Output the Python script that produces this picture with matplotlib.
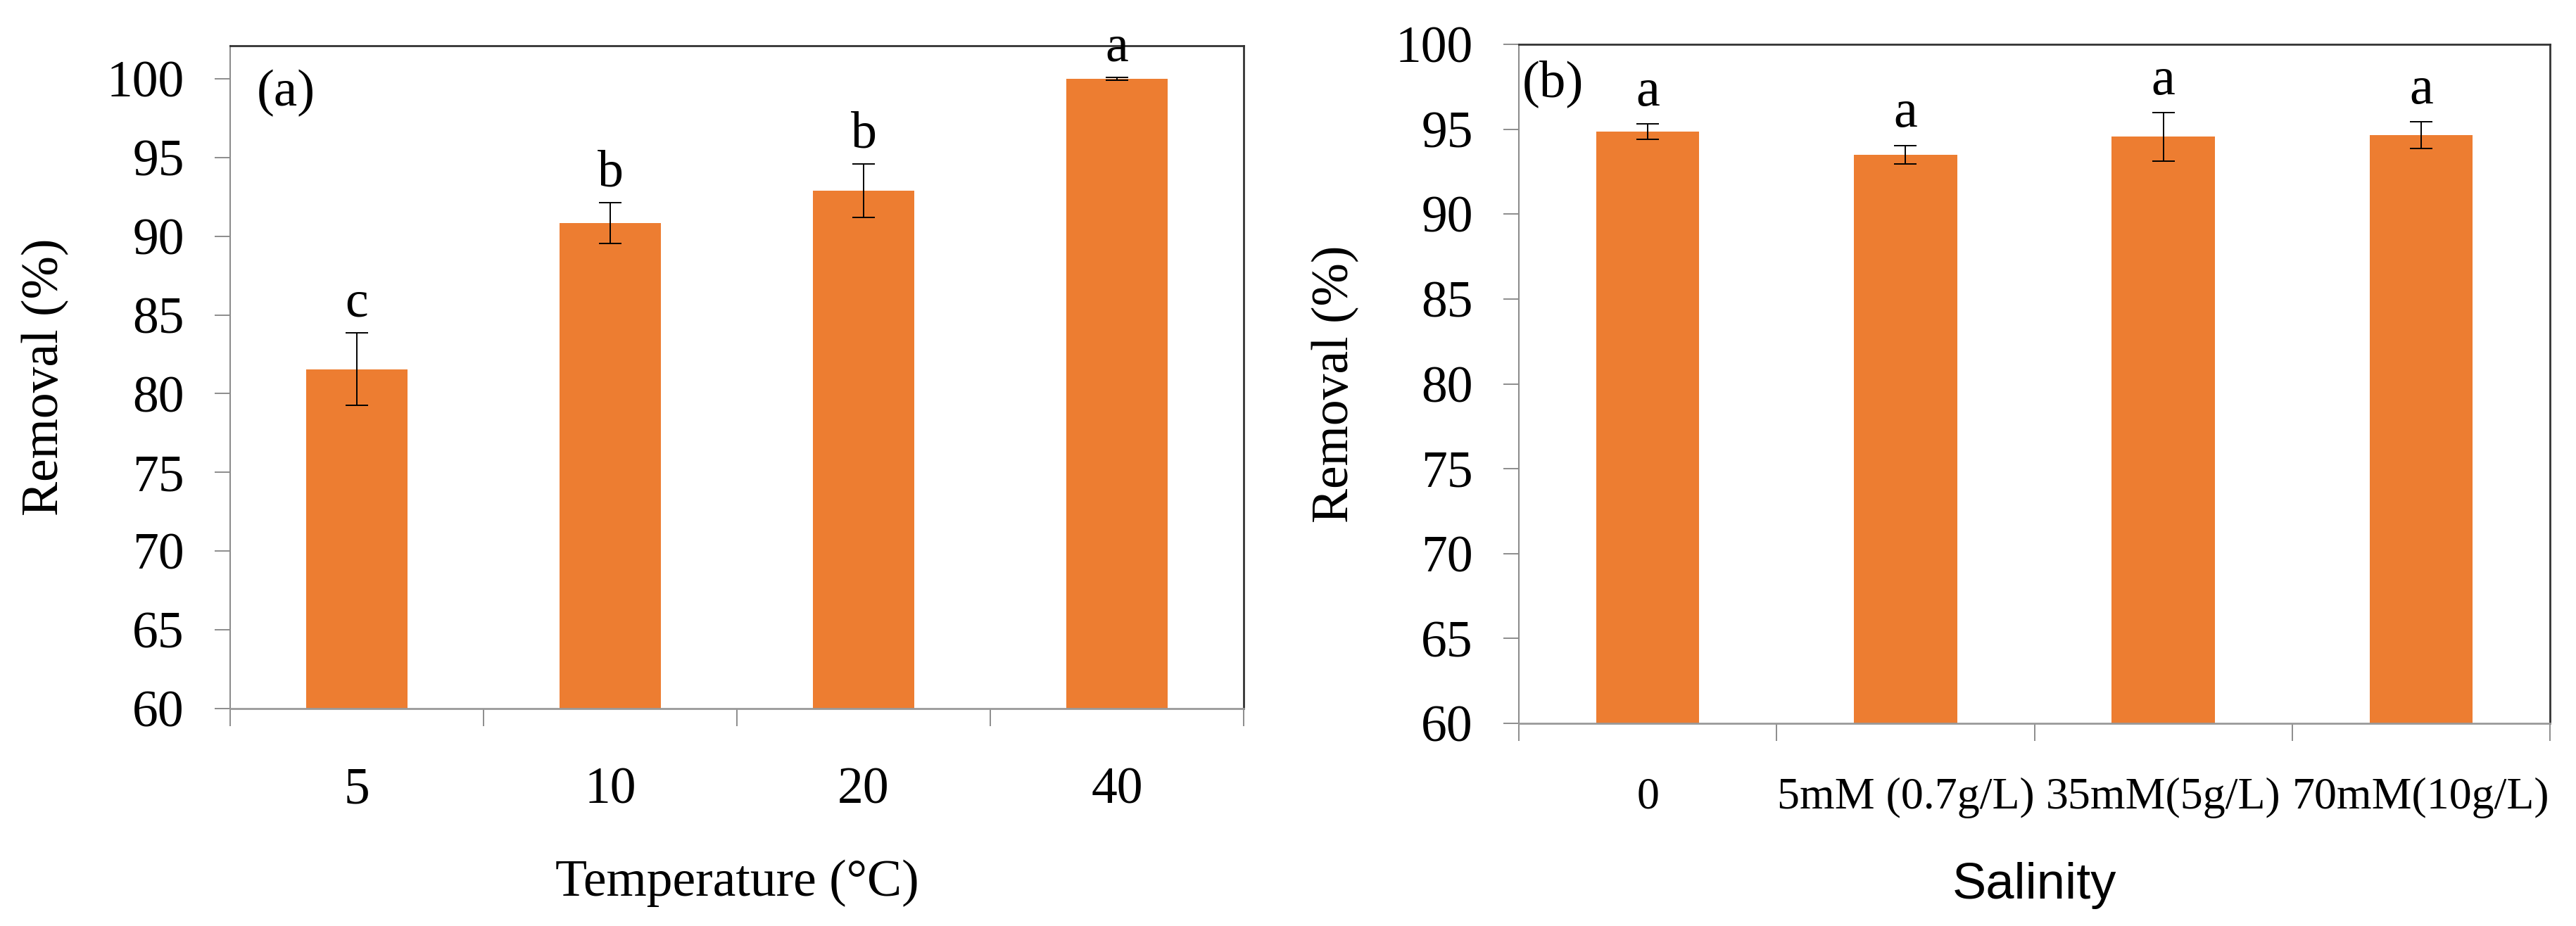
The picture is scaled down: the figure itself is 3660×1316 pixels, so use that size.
import numpy as np
import matplotlib
matplotlib.use('Agg')
import matplotlib.pyplot as plt

plt.rcParams['font.family'] = ['Liberation Serif', 'DejaVu Serif']
plt.rcParams['mathtext.fontset'] = 'stix'

# panel (a) - temperature
temp_labels = ['5', '10', '20', '40']
temp_removal = [81.55, 90.85, 92.9, 100.0]
temp_err = [2.3, 1.3, 1.7, 0.1]
temp_sig = ['c', 'b', 'b', 'a']

# panel (b) - salinity
sal_labels = ['0', '5mM (0.7g/L)', '35mM(5g/L)', '70mM(10g/L)']
sal_removal = [94.85, 93.5, 94.55, 94.65]
sal_err = [0.45, 0.55, 1.42, 0.77]
sal_sig = ['a', 'a', 'a', 'a']

BAR = '#ED7D31'
FS = 53

fig = plt.figure(figsize=(36.6, 13.16), dpi=100)
ax1 = fig.add_axes([0.08934, 0.23480, 0.39344, 0.71581])
ax2 = fig.add_axes([0.58962, 0.21884, 0.40027, 0.73329])


def draw_panel(ax, labels, vals, errs, sig, ylim, sig_off, xfs, xpad, sig_fs):
    x = np.arange(len(labels))
    ax.bar(x, vals, width=0.4, color=BAR, zorder=2)
    ax.errorbar(x, vals, yerr=errs, fmt='none', ecolor='black',
                elinewidth=1.4, capsize=11.5, capthick=1.4, zorder=3)
    for xi, v, e, s in zip(x, vals, errs, sig):
        ax.annotate(s, (xi, v + e), xytext=(0, sig_off), textcoords='offset points',
                    ha='center', va='baseline', fontsize=sig_fs)
    ax.set_xlim(-0.5, len(labels) - 0.5)
    ax.set_ylim(*ylim)
    ax.set_yticks(np.arange(60, 101, 5))
    ax.set_xticks(x)
    ax.set_xticklabels(labels, fontsize=xfs)
    ax.set_xticks(np.arange(-0.5, len(labels), 1.0), minor=True)
    ax.tick_params(axis='x', which='major', length=0, pad=xpad)
    ax.tick_params(axis='x', which='minor', length=18, width=1.4, color='#8c8c8c', direction='out')
    ax.tick_params(axis='y', length=16, width=1.4, color='#8c8c8c', pad=31, labelsize=FS)
    for side in ['top', 'right']:
        ax.spines[side].set_color('#333333')
        ax.spines[side].set_linewidth(2)
    ax.spines['left'].set_color('#8c8c8c')
    ax.spines['left'].set_linewidth(1.5)
    ax.spines['bottom'].set_color('#999999')
    ax.spines['bottom'].set_linewidth(2)


draw_panel(ax1, temp_labels, temp_removal, temp_err, temp_sig, (60, 102.1), 17, FS, 60, FS)
draw_panel(ax2, sal_labels, sal_removal, sal_err, sal_sig, (60, 100), 19, 46, 55, 55)

ax1.set_ylabel('Removal (%)', fontsize=FS, va='center')
ax1.yaxis.set_label_coords(-0.1826, 0.5)
ax1.set_xlabel('Temperature (°C)', fontsize=FS, va='baseline')
ax1.xaxis.set_label_coords(0.5, -0.2824)
ax1.text(0.0264, 0.9098, '(a)', transform=ax1.transAxes, fontsize=54, ha='left', va='baseline')

ax2.set_ylabel('Removal (%)', fontsize=FS, va='center')
ax2.yaxis.set_label_coords(-0.178, 0.5)
ax2.set_xlabel('Salinity', fontsize=52, family=['Liberation Sans', 'DejaVu Sans'], va='baseline')
ax2.xaxis.set_label_coords(0.5, -0.258)
ax2.text(0.0034, 0.923, '(b)', transform=ax2.transAxes, fontsize=54, ha='left', va='baseline')

fig.savefig('out.png', dpi=100)
